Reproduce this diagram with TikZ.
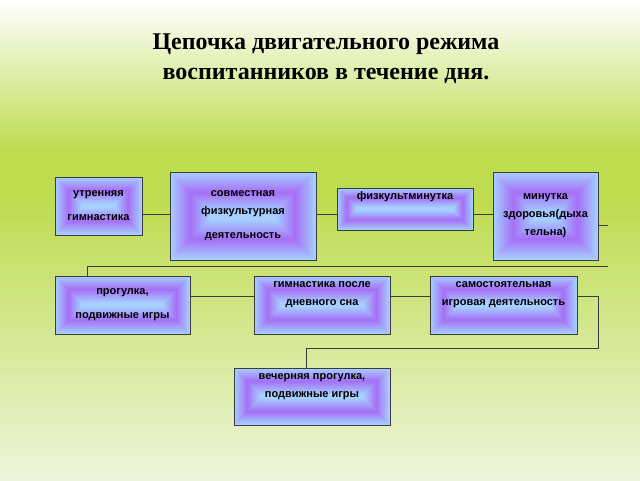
\documentclass[tikz,border=0pt]{standalone}
\usepackage{fontspec}
\setmainfont{Liberation Serif}
\newfontfamily\arialf{Liberation Sans}
\definecolor{lb}{RGB}{165,208,255}
\definecolor{pu}{RGB}{165,100,245}
\definecolor{gr}{RGB}{190,220,80}
\definecolor{grl}{RGB}{238,244,218}
\definecolor{bord}{RGB}{60,60,60}
\tikzset{
  boxnode/.style={draw=bord,line width=0.8pt,inner sep=0pt,align=center,font=\arialf\bfseries\fontsize{11}{16}\selectfont},
  link/.style={draw=bord,line width=0.8pt}
}
\newcommand\gbox[6]{%
  \pgfmathsetmacro\hh{(#5-#3)/2}%
  \foreach \i in {0,...,40}{%
    \pgfmathsetmacro\ins{\i*\hh*0.92/40}%
    \pgfmathtruncatemacro\m{\i<=20 ? \i*4.5 : (40-\i)*4.5}%
    \fill[pu!\m!lb] (#2+\ins,#3+\ins) rectangle (#4-\ins,#5-\ins);}%
  \pgfmathsetlengthmacro\bw{(#4-#2)*1pt}%
  \pgfmathsetlengthmacro\bh{(#5-#3)*1pt}%
  \node[boxnode,minimum width=\bw,minimum height=\bh] (#1) at ({(#2+#4)/2},{(#3+#5)/2}) {#6};%
}
\begin{document}
\begin{tikzpicture}[x=1pt,y=-1pt]
\useasboundingbox (0,0) rectangle (640,480);
\shade[top color=white,bottom color=gr] (0,0) rectangle (640,150);
\fill[gr] (0,150) rectangle (640,200);
\shade[top color=gr,bottom color=grl] (0,200) rectangle (640,480);
\node[font=\bfseries\fontsize{24}{30}\selectfont,align=center] (title) at (326,59) {Цепочка двигательного режима\\воспитанников в течение дня.};
\gbox{b1}{55}{177}{142}{235}{утренняя\\[8pt]гимнастика}
\gbox{b2}{170}{172}{316}{260}{совместная\\[2pt]физкультурная\\[8pt]деятельность}
\gbox{b3}{337}{188}{473}{230}{физкультминутка\\[10pt]}
\gbox{b4}{493}{172}{598}{260}{минутка\\[2pt]здоровья(дыха\\[2pt]тельна)}
\gbox{b5}{55}{276}{190}{334}{прогулка,\\[8pt]подвижные игры}
\gbox{b6}{254}{276}{390}{334}{гимнастика после\\[2pt]дневного сна\\[6pt]}
\gbox{b7}{430}{276}{577}{334}{самостоятельная\\[2pt]игровая деятельность\\[6pt]}
\gbox{b8}{234}{368}{390}{425}{вечерняя прогулка,\\[2pt]подвижные игры\\[6pt]}
\coordinate (r1) at (608,225);
\coordinate (h1) at (608,266);
\coordinate (h2) at (87,266);
\coordinate (v1) at (598,348);
\coordinate (v2) at (306,348);
\draw[link] (b1.east|-0,214) -- (b2.west|-0,214);
\draw[link] (b2.east|-0,214) -- (b3.west|-0,214);
\draw[link] (b3.east|-0,214) -- (b4.west|-0,214);
\draw[link] (b4.east|-r1) -- (r1);
\draw[link] (h1) -- (h2) -- (h2|-b5.north);
\draw[link] (b5.east|-0,296) -- (b6.west|-0,296);
\draw[link] (b6.east|-0,296) -- (b7.west|-0,296);
\draw[link] (b7.east|-0,296) -- (v1|-0,296) -- (v1) -- (v2) -- (v2|-b8.north);
\end{tikzpicture}
\end{document}
